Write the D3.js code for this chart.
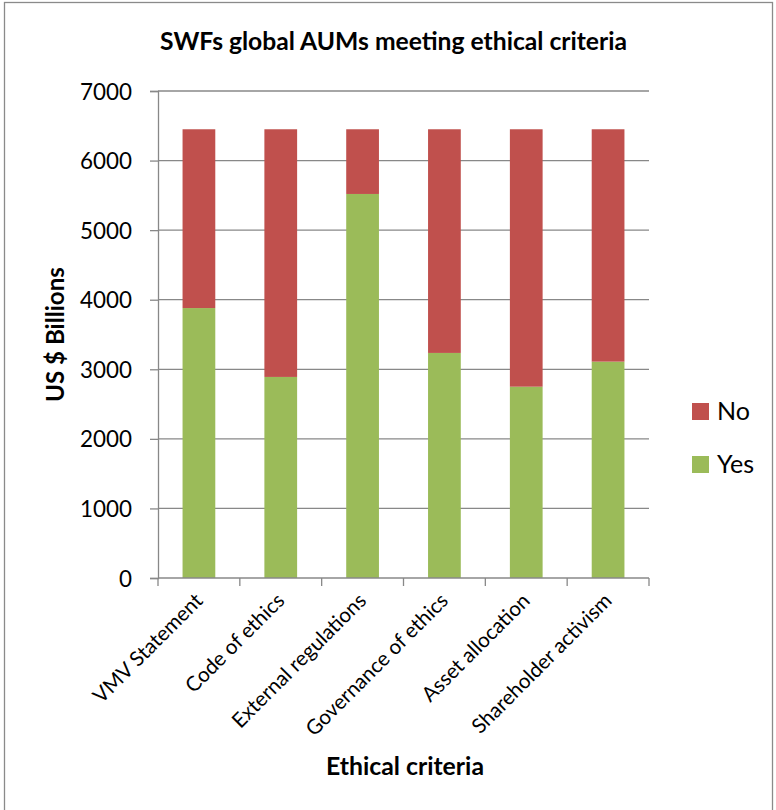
<!DOCTYPE html>
<html>
<head>
<meta charset="utf-8">
<script src="https://cdn.jsdelivr.net/npm/d3@7"></script>
<style>
  html, body { margin: 0; padding: 0; background: #fff; }
  svg { display: block; font-family: Lato, "Open Sans", sans-serif; }
</style>
</head>
<body>
<svg id="chart" width="776" height="810"></svg>
<script>
// Ethical criteria assessed across sovereign wealth funds
const categories = [
  "VMV Statement",
  "Code of ethics",
  "External regulations",
  "Governance of ethics",
  "Asset allocation",
  "Shareholder activism"
];
// AUM (US $ billions) meeting each criterion, and the remainder of the 6450 total
const yesValues = [3880, 2890, 5520, 3235, 2750, 3110];
const noValues  = [2570, 3560,  930, 3215, 3700, 3340];
const seriesNames = ["No", "Yes"];
const seriesColors = { Yes: "#9BBB59", No: "#C0504D" };
const yTicks = [0, 1000, 2000, 3000, 4000, 5000, 6000, 7000];

const svg = d3.select("#chart");
const plot = { left: 158, right: 649, top: 91, bottom: 578 };
const axisColor = "#888888";

// Scale font size so a text element spans the requested width
function fitWidth(sel, width) {
  sel.each(function () {
    const fs = parseFloat(this.getAttribute("font-size"));
    const len = this.getComputedTextLength();
    if (len > 0) this.setAttribute("font-size", (fs * width / len).toFixed(2));
  });
}

// Outer chart frame
svg.append("rect")
  .attr("x", 4.5).attr("y", 2.5)
  .attr("width", 768).attr("height", 830)
  .attr("fill", "none").attr("stroke", "#8a8a8a").attr("stroke-width", 1.3);

const x = d3.scaleBand()
  .domain(categories)
  .range([plot.left, plot.right])
  .paddingInner(0.6)
  .paddingOuter(0.3);

const y = d3.scaleLinear()
  .domain([0, 7000])
  .range([plot.bottom, plot.top]);

// Horizontal gridlines
svg.append("g")
  .selectAll("line")
  .data(yTicks.filter(d => d > 0))
  .join("line")
  .attr("x1", plot.left).attr("x2", plot.right)
  .attr("y1", d => y(d)).attr("y2", d => y(d))
  .attr("stroke", axisColor).attr("stroke-width", 1.3);

// Stacked bars
const rows = categories.map((c, i) => ({ category: c, Yes: yesValues[i], No: noValues[i] }));
const stack = d3.stack().keys(["Yes", "No"])(rows);

svg.append("g")
  .selectAll("g")
  .data(stack)
  .join("g")
  .attr("fill", d => seriesColors[d.key])
  .selectAll("rect")
  .data(d => d)
  .join("rect")
  .attr("x", d => x(d.data.category))
  .attr("width", x.bandwidth())
  .attr("y", d => y(d[1]))
  .attr("height", d => y(d[0]) - y(d[1]));

// Y axis
const yAxis = svg.append("g")
  .attr("transform", `translate(${plot.left},0)`)
  .call(d3.axisLeft(y).tickValues(yTicks).tickSize(8).tickPadding(18).tickFormat(d3.format("d")));
yAxis.select(".domain").attr("stroke", axisColor).attr("stroke-width", 1.3);
yAxis.selectAll(".tick line").attr("stroke", axisColor).attr("stroke-width", 1.3);
yAxis.selectAll(".tick text")
  .attr("fill", "#000")
  .attr("font-family", "Lato, sans-serif")
  .attr("font-size", 22)
  .attr("dy", "0.36em");
fitWidth(yAxis.selectAll(".tick text").filter(d => d === 7000), 52);
const yTickSize = yAxis.selectAll(".tick text").filter(d => d === 7000).attr("font-size");
yAxis.selectAll(".tick text").attr("font-size", yTickSize);

// X axis: ticks on band boundaries
const xAxisG = svg.append("g");
xAxisG.append("line")
  .attr("x1", plot.left).attr("x2", plot.right)
  .attr("y1", plot.bottom).attr("y2", plot.bottom)
  .attr("stroke", axisColor).attr("stroke-width", 1.3);
const boundaries = d3.range(categories.length + 1).map(i => plot.left + i * x.step());
xAxisG.selectAll("line.tick")
  .data(boundaries)
  .join("line")
  .attr("class", "tick")
  .attr("x1", d => d).attr("x2", d => d)
  .attr("y1", plot.bottom).attr("y2", plot.bottom + 8)
  .attr("stroke", axisColor).attr("stroke-width", 1.3);

const xLabels = xAxisG.selectAll("text")
  .data(categories)
  .join("text")
  .attr("text-anchor", "end")
  .attr("font-size", 18)
  .attr("fill", "#000")
  .attr("transform", d => `translate(${x(d) + x.bandwidth() / 2 + 5},${plot.bottom + 24}) rotate(-45)`)
  .text(d => d);
fitWidth(xLabels.filter(d => d === "Shareholder activism"), 188);
xLabels.attr("font-size", xLabels.filter(d => d === "Shareholder activism").attr("font-size"));

// Title
const title = svg.append("text")
  .attr("x", 393.5).attr("y", 50)
  .attr("text-anchor", "middle")
  .attr("font-weight", "bold")
  .attr("font-size", 20)
  .attr("fill", "#000")
  .text("SWFs global AUMs meeting ethical criteria");
fitWidth(title, 467);

// Axis titles
const xTitle = svg.append("text")
  .attr("x", 405).attr("y", 775)
  .attr("text-anchor", "middle")
  .attr("font-weight", "bold")
  .attr("font-size", 20)
  .attr("fill", "#000")
  .text("Ethical criteria");
fitWidth(xTitle, 158);

const yTitle = svg.append("text")
  .attr("transform", "translate(64,334.5) rotate(-90)")
  .attr("text-anchor", "middle")
  .attr("font-weight", "bold")
  .attr("font-size", 20)
  .attr("fill", "#000")
  .text("US $ Billions");
fitWidth(yTitle, 135);

// Legend
const legend = svg.append("g");
const legendRows = legend.selectAll("g")
  .data(seriesNames)
  .join("g")
  .attr("transform", (d, i) => `translate(692,${403 + i * 53})`);
legendRows.append("rect")
  .attr("width", 17).attr("height", 17)
  .attr("fill", d => seriesColors[d]);
const legendText = legendRows.append("text")
  .attr("x", 25).attr("y", 16.5)
  .attr("font-size", 24)
  .attr("fill", "#000")
  .text(d => d);
fitWidth(legendText.filter(d => d === "Yes"), 37);
legendText.attr("font-size", legendText.filter(d => d === "Yes").attr("font-size"));
</script>
</body>
</html>
